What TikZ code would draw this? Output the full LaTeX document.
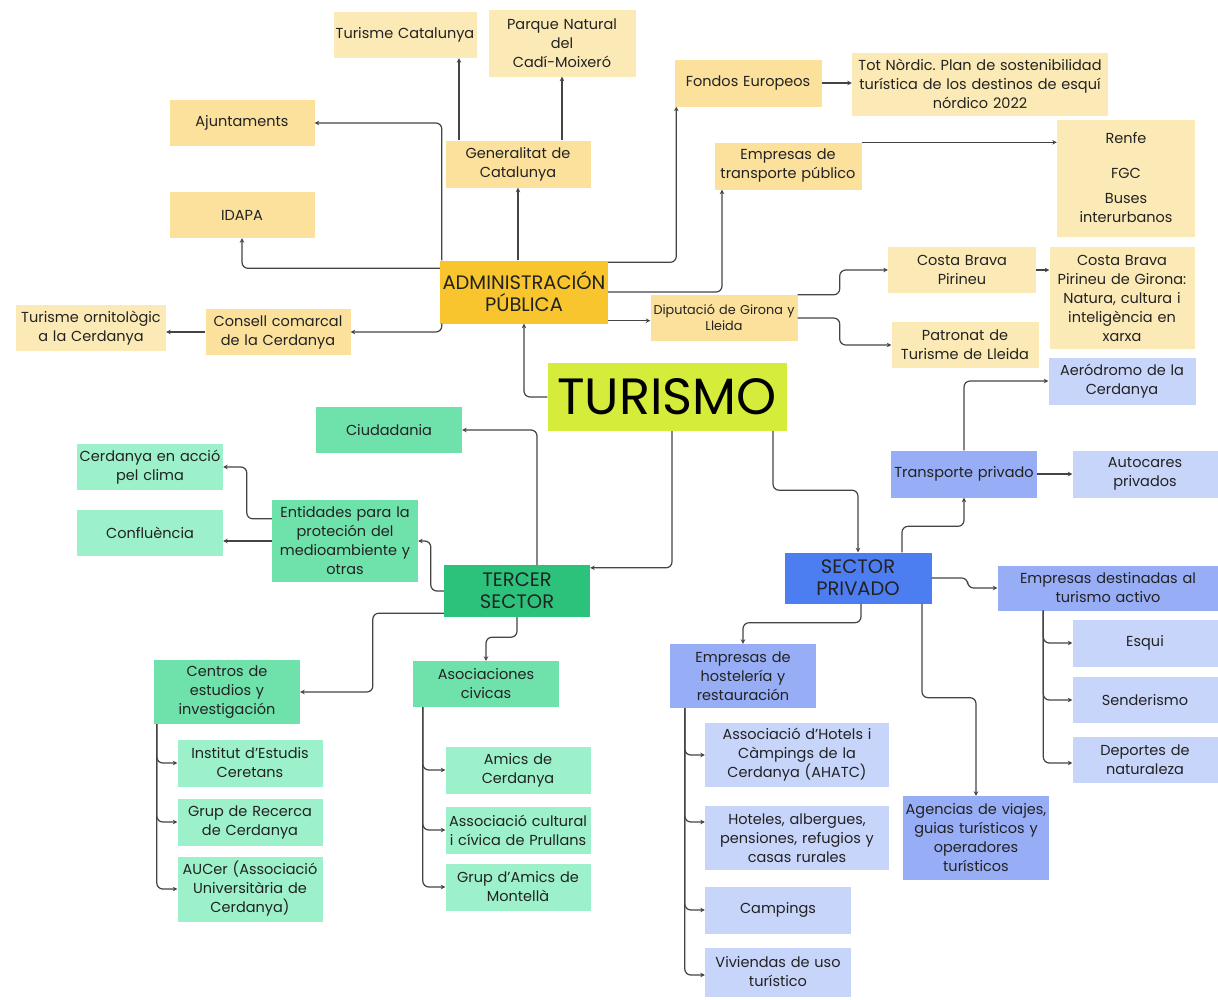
\documentclass[tikz,border=0pt]{standalone}
\usepackage{fontspec}
\setmainfont{Poppins}
\frenchspacing
\usetikzlibrary{arrows.meta,calc}
\definecolor{ylwA}{HTML}{FBE19C}
\definecolor{ylwB}{HTML}{FCEAB6}
\definecolor{ylwD}{HTML}{F8C52E}
\definecolor{lime}{HTML}{D6EC3A}
\definecolor{grnD}{HTML}{2CC27B}
\definecolor{grnM}{HTML}{6FE2AC}
\definecolor{grnL}{HTML}{9CF1CA}
\definecolor{bluD}{HTML}{4D7EF1}
\definecolor{bluM}{HTML}{97AEF6}
\definecolor{bluL}{HTML}{C8D5FA}
\definecolor{txt}{HTML}{222222}
\definecolor{lin}{HTML}{444444}
\begin{document}
\begin{tikzpicture}[x=1pt,y=-1pt,
  box/.style={rectangle, inner sep=0pt, align=center, text=txt, font=\fontsize{14.5}{19}\selectfont},
  wh/.style 2 args={minimum width=#1pt, minimum height=#2pt, text width=#1pt},
  yA/.style={box, fill=ylwA},
  yB/.style={box, fill=ylwB},
  yD/.style={box, fill=ylwD, font=\fontsize{19.5}{22}\selectfont},
  gD/.style={box, fill=grnD, font=\fontsize{19.5}{22}\selectfont},
  gM/.style={box, fill=grnM},
  gL/.style={box, fill=grnL},
  bD/.style={box, fill=bluD, font=\fontsize{19.5}{22}\selectfont},
  bM/.style={box, fill=bluM},
  bL/.style={box, fill=bluL},
  conn/.style={draw=lin, line width=1.2pt, rounded corners=6pt, -{Stealth[length=4.5pt,width=4.5pt]}}]
\useasboundingbox[fill=white] (0,0) rectangle (1218,999);

% ---- Administración pública (yellow)
\node[yB, wh={143}{46}] (tc) at (405,35) {Turisme Catalunya};
\node[yB, wh={147}{67}] (pn) at (562,43) {Parque Natural\\del\\Cadí-Moixeró};
\node[yA, wh={145}{46}] (aj) at (242,123) {Ajuntaments};
\node[yA, wh={145}{46}] (id) at (242,215) {IDAPA};
\node[yA, wh={145}{47}] (gc) at (518,164) {Generalitat de\\Catalunya};
\node[yA, wh={147}{47}] (fe) at (748,83) {Fondos Europeos};
\node[yB, wh={256}{63}] (tn) at (980,84) {Tot Nòrdic. Plan de sostenibilidad\\turística de los destinos de esquí\\nórdico 2022};
\node[yA, wh={147}{47}] (et) at (788,166) {Empresas de\\transporte público};
\node[yB, wh={138}{117}] (rf) at (1126,178) {Renfe\\[16pt]FGC\\[6pt]Buses\\interurbanos};
\node[yD, wh={168}{63}] (ad) at (524,292) {ADMINISTRACIÓN\\PÚBLICA};
\node[yA, wh={145}{46}] (cc) at (278,332) {Consell comarcal\\de la Cerdanya};
\node[yB, wh={150}{46}] (to) at (91,328) {Turisme ornitològic\\a la Cerdanya};
\node[yA, wh={147}{46}, font=\fontsize{12.8}{16}\selectfont] (dg) at (724,318) {Diputació de Girona y\\Lleida};
\node[yB, wh={148}{46}] (cb) at (962,270) {Costa Brava\\Pirineu};
\node[yB, wh={147}{46}] (pt) at (965,345) {Patronat de\\Turisme de Lleida};
\node[yB, wh={145}{102}] (cg) at (1122,298) {Costa Brava\\Pirineu de Girona:\\Natura, cultura i\\inteligència en\\xarxa};

% ---- centre
\node[box, fill=lime, wh={239}{68}, text=black, font=\fontsize{51}{56}\selectfont] (tu) at (667,397) {TURISMO};

% ---- Tercer sector (green)
\node[gM, wh={146}{46}] (ci) at (389,430) {Ciudadania};
\node[gL, wh={146}{46}] (ca) at (150,467) {Cerdanya en acció\\pel clima};
\node[gL, wh={146}{46}] (cf) at (150,533) {Confluència};
\node[gM, wh={146}{82}] (en) at (345,541) {Entidades para la\\proteción del\\medioambiente y\\otras};
\node[gD, wh={146}{52}] (ts) at (517,591) {TERCER\\SECTOR};
\node[gM, wh={146}{64}] (ce) at (227,692) {Centros de\\estudios y\\investigación};
\node[gM, wh={146}{46}] (as) at (486,684) {Asociaciones\\civicas};
\node[gL, wh={145}{47}] (ie) at (250,763) {Institut d’Estudis\\Ceretans};
\node[gL, wh={145}{47}] (gr) at (250,822) {Grup de Recerca\\de Cerdanya};
\node[gL, wh={145}{65}] (au) at (250,889) {AUCer (Associació\\Universitària de\\Cerdanya)};
\node[gL, wh={145}{47}] (am) at (518,770) {Amics de\\Cerdanya};
\node[gL, wh={145}{47}] (ac) at (518,830) {Associació cultural\\i cívica de Prullans};
\node[gL, wh={145}{47}] (ga) at (518,887) {Grup d’Amics de\\Montellà};

% ---- Sector privado (blue)
\node[bL, wh={147}{47}] (ae) at (1122,381) {Aeródromo de la\\Cerdanya};
\node[bM, wh={146}{47}] (tp) at (964,474) {Transporte privado};
\node[bL, wh={145}{47}] (ap) at (1145,474) {Autocares\\privados};
\node[bD, wh={147}{51}] (sp) at (858,578) {SECTOR\\PRIVADO};
\node[bM, wh={221}{45}] (ed) at (1108,588) {Empresas destinadas al\\turismo activo};
\node[bL, wh={145}{47}] (es) at (1145,643) {Esqui};
\node[bL, wh={145}{46}] (se) at (1145,700) {Senderismo};
\node[bL, wh={145}{46}] (dn) at (1145,760) {Deportes de\\naturaleza};
\node[bM, wh={146}{64}] (eh) at (743,676) {Empresas de\\hostelería y\\restauración};
\node[bL, wh={184}{64}] (ah) at (797,755) {Associació d’Hotels i\\Càmpings de la\\Cerdanya (AHATC)};
\node[bL, wh={184}{64}] (ho) at (797,838) {Hoteles, albergues,\\pensiones, refugios y\\casas rurales};
\node[bL, wh={146}{47}] (cm) at (778,910) {Campings};
\node[bL, wh={146}{49}] (vi) at (778,972) {Viviendas de uso\\turístico};
\node[bM, wh={146}{84}] (ag) at (976,838) {Agencias de viajes,\\guias turísticos y\\operadores\\turísticos};

% ---- connectors: administración
\draw[conn] (tu.west) -| (ad.south);
\draw[conn] ([xshift=2pt]ad.north west) |- (aj.east);
\draw[conn] ([yshift=-8pt]ad.north west) -| (id.south);
\draw[conn] ([xshift=2pt]ad.south west) |- (cc.east);
\draw[conn] (cc.west) -- (cc.west -| to.east);
\draw[conn] (ad.north -| gc.south) -- (gc.south);
\draw[conn] ([xshift=-59pt]gc.north) -- ([xshift=-59pt]gc.north |- tc.south);
\draw[conn] ([xshift=44pt]gc.north) -- (pn.south);
\draw[conn] ([yshift=-2pt]ad.north east) -| ([xshift=2pt]fe.south west);
\draw[conn] (fe.east) -- (fe.east -| tn.west);
\draw[conn] (ad.east) -| ([xshift=-66pt]et.south);
\draw[conn] (et.north east) -- (et.north east -| rf.west);
\draw[conn] ([yshift=3pt]ad.south east) -- ([yshift=3pt]ad.south east -| dg.west);
\draw[conn] (dg.north east) -- ++(42,0) |- (cb.west);
\draw[conn] (dg.east) -- ++(42,0) |- (pt.west);
\draw[conn] (cb.east) -- (cb.east -| cg.west);

% ---- connectors: tercer sector
\draw[conn] ([xshift=5pt]tu.south) |- ([yshift=-3pt]ts.north east);
\draw[conn] ([xshift=20pt]ts.north) |- (ci.east);
\draw[conn] (ts.west) -- ++(-13,0) |- (en.east);
\draw[conn] ([yshift=-19pt]en.north west) -- ++(-25,0) |- (ca.east);
\draw[conn] (en.west) -- (en.west -| cf.east);
\draw[conn] ([yshift=4pt]ts.south west) -- ++(-71,0) |- (ce.east);
\draw[conn] (ts.south) -- ++(0,20) -| (as.north);
\draw[conn] ([xshift=3pt]ce.south west) |- (ie.west);
\draw[conn] ([xshift=3pt]ce.south west) |- (gr.west);
\draw[conn] ([xshift=3pt]ce.south west) |- (au.west);
\draw[conn] ([xshift=10pt]as.south west) |- (am.west);
\draw[conn] ([xshift=10pt]as.south west) |- (ac.west);
\draw[conn] ([xshift=10pt]as.south west) |- (ga.west);

% ---- connectors: sector privado
\draw[conn] ([xshift=106pt]tu.south) -- ++(0,59) -| (sp.north);
\draw[conn] ([xshift=44pt]sp.north) -- ++(0,-26) -| (tp.south);
\draw[conn] (tp.north) |- (ae.west);
\draw[conn] (tp.east) -- (ap.west);
\draw[conn] (sp.east) -- ++(36,0) |- (ed.west);
\draw[conn] ([xshift=46pt]ed.south west) |- (es.west);
\draw[conn] ([xshift=46pt]ed.south west) |- (se.west);
\draw[conn] ([xshift=46pt]ed.south west) |- ([yshift=-3pt]dn.west);
\draw[conn] ([xshift=3pt]sp.south) -- ++(0,19) -| (eh.north);
\draw[conn] ([xshift=64pt]sp.south) -- ++(0,94) -| (ag.north);
\draw[conn] ([xshift=15pt]eh.south west) |- (ah.west);
\draw[conn] ([xshift=15pt]eh.south west) |- ([yshift=16pt]ho.west);
\draw[conn] ([xshift=15pt]eh.south west) |- (cm.west);
\draw[conn] ([xshift=15pt]eh.south west) |- ([yshift=-3pt]vi.west);
\end{tikzpicture}
\end{document}
